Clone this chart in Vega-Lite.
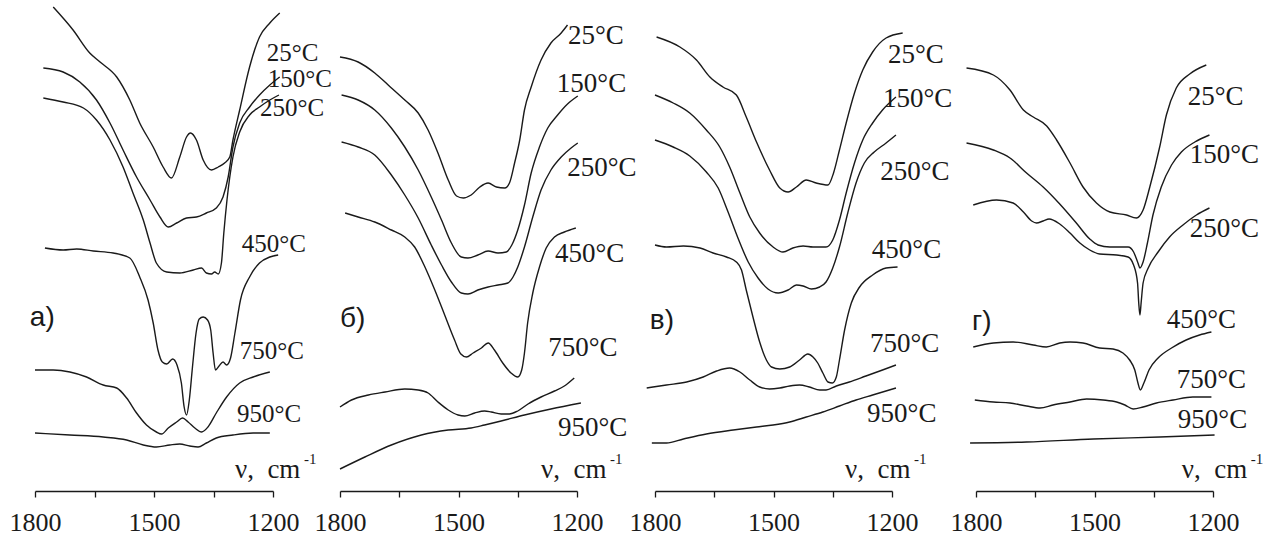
{
  "$schema": "https://vega.github.io/schema/vega-lite/v6.json",
  "padding": {"left": 9, "top": 0, "right": 0, "bottom": 0},
  "background": "white",
  "config": {
    "view": {"stroke": null},
    "axis": {"grid": false, "domainColor": "#1a1a1a", "domainWidth": 1.3, "tickColor": "#1a1a1a", "tickWidth": 1.3, "tickSize": 6, "labelFont": "Liberation Serif, Times New Roman, serif", "labelFontSize": 26, "labelColor": "#1a1a1a", "labelPadding": 12, "labelFlush": false, "labelOverlap": false},
    "text": {"font": "Liberation Serif, Times New Roman, serif", "color": "#1a1a1a", "align": "left", "baseline": "alphabetic"}
  },
  "datasets": {
    "a": [
      {"T":"25","nu":1754,"tr":484},{"T":"25","nu":1704,"tr":461},{"T":"25","nu":1662,"tr":438},{"T":"25","nu":1636,"tr":429},{"T":"25","nu":1594,"tr":414},{"T":"25","nu":1561,"tr":391},{"T":"25","nu":1536,"tr":368},{"T":"25","nu":1502,"tr":344},{"T":"25","nu":1477,"tr":324},{"T":"25","nu":1456,"tr":313},{"T":"25","nu":1435,"tr":334},{"T":"25","nu":1418,"tr":354},{"T":"25","nu":1408,"tr":358},{"T":"25","nu":1393,"tr":351},{"T":"25","nu":1376,"tr":331},{"T":"25","nu":1355,"tr":321},{"T":"25","nu":1338,"tr":324},{"T":"25","nu":1322,"tr":328},{"T":"25","nu":1309,"tr":334},{"T":"25","nu":1301,"tr":351},{"T":"25","nu":1284,"tr":381},{"T":"25","nu":1259,"tr":424},{"T":"25","nu":1234,"tr":454},{"T":"25","nu":1208,"tr":468},{"T":"25","nu":1183,"tr":478},
      {"T":"150","nu":1779,"tr":423},{"T":"150","nu":1729,"tr":419},{"T":"150","nu":1687,"tr":409},{"T":"150","nu":1645,"tr":391},{"T":"150","nu":1611,"tr":368},{"T":"150","nu":1578,"tr":341},{"T":"150","nu":1544,"tr":314},{"T":"150","nu":1510,"tr":291},{"T":"150","nu":1485,"tr":274},{"T":"150","nu":1464,"tr":264},{"T":"150","nu":1443,"tr":268},{"T":"150","nu":1418,"tr":273},{"T":"150","nu":1393,"tr":274},{"T":"150","nu":1368,"tr":278},{"T":"150","nu":1343,"tr":283},{"T":"150","nu":1326,"tr":294},{"T":"150","nu":1313,"tr":314},{"T":"150","nu":1301,"tr":344},{"T":"150","nu":1284,"tr":368},{"T":"150","nu":1259,"tr":384},{"T":"150","nu":1234,"tr":396},{"T":"150","nu":1208,"tr":406},{"T":"150","nu":1183,"tr":414},
      {"T":"250","nu":1779,"tr":393},{"T":"250","nu":1729,"tr":389},{"T":"250","nu":1678,"tr":383},{"T":"250","nu":1645,"tr":371},{"T":"250","nu":1611,"tr":351},{"T":"250","nu":1578,"tr":324},{"T":"250","nu":1553,"tr":298},{"T":"250","nu":1527,"tr":271},{"T":"250","nu":1510,"tr":248},{"T":"250","nu":1494,"tr":228},{"T":"250","nu":1468,"tr":219},{"T":"250","nu":1435,"tr":218},{"T":"250","nu":1401,"tr":221},{"T":"250","nu":1380,"tr":223},{"T":"250","nu":1368,"tr":218},{"T":"250","nu":1355,"tr":217},{"T":"250","nu":1347,"tr":219},{"T":"250","nu":1338,"tr":217},{"T":"250","nu":1330,"tr":228},{"T":"250","nu":1324,"tr":258},{"T":"250","nu":1316,"tr":291},{"T":"250","nu":1301,"tr":334},{"T":"250","nu":1284,"tr":359},{"T":"250","nu":1259,"tr":376},{"T":"250","nu":1234,"tr":384},{"T":"250","nu":1208,"tr":391},{"T":"250","nu":1185,"tr":396},
      {"T":"450","nu":1775,"tr":243},{"T":"450","nu":1729,"tr":241},{"T":"450","nu":1695,"tr":242},{"T":"450","nu":1653,"tr":240},{"T":"450","nu":1603,"tr":238},{"T":"450","nu":1561,"tr":233},{"T":"450","nu":1536,"tr":214},{"T":"450","nu":1515,"tr":191},{"T":"450","nu":1502,"tr":168},{"T":"450","nu":1490,"tr":141},{"T":"450","nu":1479,"tr":129},{"T":"450","nu":1468,"tr":127},{"T":"450","nu":1453,"tr":132},{"T":"450","nu":1442,"tr":126},{"T":"450","nu":1431,"tr":108},{"T":"450","nu":1424,"tr":84},{"T":"450","nu":1418,"tr":76},{"T":"450","nu":1411,"tr":91},{"T":"450","nu":1403,"tr":124},{"T":"450","nu":1394,"tr":158},{"T":"450","nu":1386,"tr":172},{"T":"450","nu":1376,"tr":174},{"T":"450","nu":1365,"tr":171},{"T":"450","nu":1357,"tr":161},{"T":"450","nu":1351,"tr":138},{"T":"450","nu":1345,"tr":121},{"T":"450","nu":1336,"tr":125},{"T":"450","nu":1326,"tr":129},{"T":"450","nu":1317,"tr":126},{"T":"450","nu":1307,"tr":133},{"T":"450","nu":1296,"tr":158},{"T":"450","nu":1282,"tr":191},{"T":"450","nu":1259,"tr":214},{"T":"450","nu":1234,"tr":228},{"T":"450","nu":1208,"tr":234},{"T":"450","nu":1187,"tr":236},
      {"T":"750","nu":1800,"tr":121},{"T":"750","nu":1754,"tr":121},{"T":"750","nu":1712,"tr":119},{"T":"750","nu":1670,"tr":114},{"T":"750","nu":1628,"tr":106},{"T":"750","nu":1594,"tr":103},{"T":"750","nu":1569,"tr":93},{"T":"750","nu":1544,"tr":78},{"T":"750","nu":1519,"tr":66},{"T":"750","nu":1494,"tr":59},{"T":"750","nu":1481,"tr":57},{"T":"750","nu":1464,"tr":63},{"T":"750","nu":1443,"tr":69},{"T":"750","nu":1428,"tr":73},{"T":"750","nu":1414,"tr":69},{"T":"750","nu":1397,"tr":63},{"T":"750","nu":1380,"tr":59},{"T":"750","nu":1364,"tr":64},{"T":"750","nu":1343,"tr":78},{"T":"750","nu":1317,"tr":94},{"T":"750","nu":1284,"tr":108},{"T":"750","nu":1250,"tr":114},{"T":"750","nu":1208,"tr":119},
      {"T":"950","nu":1800,"tr":58},{"T":"950","nu":1712,"tr":56},{"T":"950","nu":1628,"tr":54},{"T":"950","nu":1569,"tr":51},{"T":"950","nu":1527,"tr":46},{"T":"950","nu":1494,"tr":44},{"T":"950","nu":1460,"tr":46},{"T":"950","nu":1435,"tr":47},{"T":"950","nu":1410,"tr":45},{"T":"950","nu":1389,"tr":44},{"T":"950","nu":1368,"tr":48},{"T":"950","nu":1343,"tr":53},{"T":"950","nu":1301,"tr":56},{"T":"950","nu":1250,"tr":58},{"T":"950","nu":1208,"tr":58}
    ],
    "b": [
      {"T":"25","nu":1800,"tr":434},{"T":"25","nu":1754,"tr":429},{"T":"25","nu":1712,"tr":418},{"T":"25","nu":1678,"tr":406},{"T":"25","nu":1636,"tr":391},{"T":"25","nu":1602,"tr":378},{"T":"25","nu":1577,"tr":361},{"T":"25","nu":1552,"tr":338},{"T":"25","nu":1526,"tr":311},{"T":"25","nu":1505,"tr":295},{"T":"25","nu":1488,"tr":293},{"T":"25","nu":1468,"tr":296},{"T":"25","nu":1446,"tr":304},{"T":"25","nu":1425,"tr":308},{"T":"25","nu":1404,"tr":304},{"T":"25","nu":1383,"tr":303},{"T":"25","nu":1371,"tr":308},{"T":"25","nu":1358,"tr":328},{"T":"25","nu":1345,"tr":351},{"T":"25","nu":1333,"tr":381},{"T":"25","nu":1316,"tr":404},{"T":"25","nu":1291,"tr":431},{"T":"25","nu":1266,"tr":448},{"T":"25","nu":1240,"tr":458},{"T":"25","nu":1224,"tr":466},
      {"T":"150","nu":1796,"tr":396},{"T":"150","nu":1754,"tr":391},{"T":"150","nu":1712,"tr":381},{"T":"150","nu":1670,"tr":363},{"T":"150","nu":1636,"tr":344},{"T":"150","nu":1602,"tr":321},{"T":"150","nu":1569,"tr":294},{"T":"150","nu":1543,"tr":271},{"T":"150","nu":1518,"tr":248},{"T":"150","nu":1493,"tr":234},{"T":"150","nu":1476,"tr":233},{"T":"150","nu":1451,"tr":236},{"T":"150","nu":1425,"tr":240},{"T":"150","nu":1400,"tr":238},{"T":"150","nu":1379,"tr":239},{"T":"150","nu":1365,"tr":246},{"T":"150","nu":1350,"tr":261},{"T":"150","nu":1333,"tr":286},{"T":"150","nu":1316,"tr":318},{"T":"150","nu":1295,"tr":344},{"T":"150","nu":1274,"tr":363},{"T":"150","nu":1249,"tr":376},{"T":"150","nu":1224,"tr":387},{"T":"150","nu":1198,"tr":395},
      {"T":"250","nu":1796,"tr":349},{"T":"250","nu":1754,"tr":344},{"T":"250","nu":1712,"tr":336},{"T":"250","nu":1670,"tr":316},{"T":"250","nu":1636,"tr":296},{"T":"250","nu":1602,"tr":273},{"T":"250","nu":1569,"tr":246},{"T":"250","nu":1543,"tr":226},{"T":"250","nu":1518,"tr":209},{"T":"250","nu":1493,"tr":198},{"T":"250","nu":1476,"tr":197},{"T":"250","nu":1451,"tr":201},{"T":"250","nu":1425,"tr":204},{"T":"250","nu":1400,"tr":206},{"T":"250","nu":1375,"tr":208},{"T":"250","nu":1362,"tr":214},{"T":"250","nu":1350,"tr":224},{"T":"250","nu":1333,"tr":244},{"T":"250","nu":1312,"tr":274},{"T":"250","nu":1291,"tr":301},{"T":"250","nu":1266,"tr":321},{"T":"250","nu":1240,"tr":334},{"T":"250","nu":1215,"tr":343},{"T":"250","nu":1198,"tr":348},
      {"T":"450","nu":1787,"tr":278},{"T":"450","nu":1754,"tr":274},{"T":"450","nu":1712,"tr":269},{"T":"450","nu":1670,"tr":261},{"T":"450","nu":1636,"tr":254},{"T":"450","nu":1611,"tr":244},{"T":"450","nu":1585,"tr":224},{"T":"450","nu":1560,"tr":201},{"T":"450","nu":1535,"tr":176},{"T":"450","nu":1510,"tr":151},{"T":"450","nu":1494,"tr":137},{"T":"450","nu":1480,"tr":134},{"T":"450","nu":1463,"tr":138},{"T":"450","nu":1442,"tr":143},{"T":"450","nu":1425,"tr":148},{"T":"450","nu":1409,"tr":141},{"T":"450","nu":1388,"tr":128},{"T":"450","nu":1367,"tr":118},{"T":"450","nu":1350,"tr":114},{"T":"450","nu":1340,"tr":121},{"T":"450","nu":1333,"tr":138},{"T":"450","nu":1325,"tr":168},{"T":"450","nu":1312,"tr":198},{"T":"450","nu":1295,"tr":224},{"T":"450","nu":1278,"tr":243},{"T":"450","nu":1257,"tr":254},{"T":"450","nu":1232,"tr":259},{"T":"450","nu":1203,"tr":263},
      {"T":"750","nu":1800,"tr":84},{"T":"750","nu":1771,"tr":91},{"T":"750","nu":1728,"tr":96},{"T":"750","nu":1686,"tr":99},{"T":"750","nu":1636,"tr":102},{"T":"750","nu":1602,"tr":101},{"T":"750","nu":1577,"tr":98},{"T":"750","nu":1552,"tr":89},{"T":"750","nu":1526,"tr":81},{"T":"750","nu":1501,"tr":76},{"T":"750","nu":1484,"tr":75},{"T":"750","nu":1459,"tr":78},{"T":"750","nu":1434,"tr":80},{"T":"750","nu":1417,"tr":79},{"T":"750","nu":1392,"tr":77},{"T":"750","nu":1371,"tr":77},{"T":"750","nu":1350,"tr":80},{"T":"750","nu":1324,"tr":87},{"T":"750","nu":1291,"tr":94},{"T":"750","nu":1257,"tr":100},{"T":"750","nu":1232,"tr":105},{"T":"750","nu":1207,"tr":113},
      {"T":"950","nu":1800,"tr":22},{"T":"950","nu":1737,"tr":34},{"T":"950","nu":1670,"tr":46},{"T":"950","nu":1594,"tr":56},{"T":"950","nu":1526,"tr":61},{"T":"950","nu":1468,"tr":63},{"T":"950","nu":1434,"tr":66},{"T":"950","nu":1392,"tr":70},{"T":"950","nu":1333,"tr":76},{"T":"950","nu":1266,"tr":82},{"T":"950","nu":1190,"tr":88}
    ],
    "v": [
      {"T":"25","nu":1796,"tr":454},{"T":"25","nu":1737,"tr":444},{"T":"25","nu":1695,"tr":431},{"T":"25","nu":1661,"tr":414},{"T":"25","nu":1628,"tr":404},{"T":"25","nu":1594,"tr":396},{"T":"25","nu":1569,"tr":374},{"T":"25","nu":1543,"tr":349},{"T":"25","nu":1510,"tr":321},{"T":"25","nu":1484,"tr":303},{"T":"25","nu":1463,"tr":299},{"T":"25","nu":1442,"tr":304},{"T":"25","nu":1417,"tr":311},{"T":"25","nu":1392,"tr":308},{"T":"25","nu":1362,"tr":306},{"T":"25","nu":1348,"tr":318},{"T":"25","nu":1333,"tr":341},{"T":"25","nu":1316,"tr":368},{"T":"25","nu":1295,"tr":398},{"T":"25","nu":1274,"tr":421},{"T":"25","nu":1249,"tr":439},{"T":"25","nu":1215,"tr":453},{"T":"25","nu":1173,"tr":458},
      {"T":"150","nu":1800,"tr":396},{"T":"150","nu":1754,"tr":388},{"T":"150","nu":1712,"tr":378},{"T":"150","nu":1670,"tr":361},{"T":"150","nu":1636,"tr":344},{"T":"150","nu":1611,"tr":324},{"T":"150","nu":1585,"tr":298},{"T":"150","nu":1560,"tr":274},{"T":"150","nu":1535,"tr":258},{"T":"150","nu":1501,"tr":244},{"T":"150","nu":1476,"tr":239},{"T":"150","nu":1451,"tr":243},{"T":"150","nu":1425,"tr":245},{"T":"150","nu":1400,"tr":244},{"T":"150","nu":1367,"tr":244},{"T":"150","nu":1350,"tr":251},{"T":"150","nu":1333,"tr":271},{"T":"150","nu":1316,"tr":298},{"T":"150","nu":1295,"tr":328},{"T":"150","nu":1274,"tr":351},{"T":"150","nu":1249,"tr":368},{"T":"150","nu":1224,"tr":381},{"T":"150","nu":1190,"tr":394},
      {"T":"250","nu":1800,"tr":351},{"T":"250","nu":1754,"tr":344},{"T":"250","nu":1712,"tr":335},{"T":"250","nu":1670,"tr":319},{"T":"250","nu":1640,"tr":303},{"T":"250","nu":1615,"tr":279},{"T":"250","nu":1590,"tr":253},{"T":"250","nu":1564,"tr":229},{"T":"250","nu":1539,"tr":213},{"T":"250","nu":1514,"tr":202},{"T":"250","nu":1488,"tr":198},{"T":"250","nu":1463,"tr":201},{"T":"250","nu":1442,"tr":206},{"T":"250","nu":1425,"tr":205},{"T":"250","nu":1404,"tr":202},{"T":"250","nu":1383,"tr":204},{"T":"250","nu":1367,"tr":209},{"T":"250","nu":1350,"tr":223},{"T":"250","nu":1333,"tr":244},{"T":"250","nu":1312,"tr":278},{"T":"250","nu":1291,"tr":308},{"T":"250","nu":1270,"tr":328},{"T":"250","nu":1245,"tr":339},{"T":"250","nu":1215,"tr":348},{"T":"250","nu":1190,"tr":356},
      {"T":"450","nu":1800,"tr":246},{"T":"450","nu":1771,"tr":244},{"T":"450","nu":1728,"tr":245},{"T":"450","nu":1686,"tr":243},{"T":"450","nu":1653,"tr":238},{"T":"450","nu":1619,"tr":234},{"T":"450","nu":1594,"tr":229},{"T":"450","nu":1581,"tr":221},{"T":"450","nu":1569,"tr":201},{"T":"450","nu":1552,"tr":174},{"T":"450","nu":1535,"tr":149},{"T":"450","nu":1518,"tr":131},{"T":"450","nu":1505,"tr":124},{"T":"450","nu":1484,"tr":122},{"T":"450","nu":1459,"tr":124},{"T":"450","nu":1434,"tr":131},{"T":"450","nu":1413,"tr":137},{"T":"450","nu":1400,"tr":134},{"T":"450","nu":1388,"tr":128},{"T":"450","nu":1375,"tr":118},{"T":"450","nu":1362,"tr":109},{"T":"450","nu":1351,"tr":108},{"T":"450","nu":1341,"tr":114},{"T":"450","nu":1333,"tr":131},{"T":"450","nu":1320,"tr":161},{"T":"450","nu":1303,"tr":188},{"T":"450","nu":1282,"tr":204},{"T":"450","nu":1249,"tr":216},{"T":"450","nu":1215,"tr":223},{"T":"450","nu":1186,"tr":224},
      {"T":"750","nu":1821,"tr":103},{"T":"750","nu":1771,"tr":106},{"T":"750","nu":1720,"tr":109},{"T":"750","nu":1678,"tr":114},{"T":"750","nu":1644,"tr":120},{"T":"750","nu":1611,"tr":123},{"T":"750","nu":1585,"tr":119},{"T":"750","nu":1560,"tr":111},{"T":"750","nu":1535,"tr":104},{"T":"750","nu":1510,"tr":102},{"T":"750","nu":1484,"tr":103},{"T":"750","nu":1459,"tr":105},{"T":"750","nu":1434,"tr":106},{"T":"750","nu":1409,"tr":104},{"T":"750","nu":1383,"tr":101},{"T":"750","nu":1367,"tr":101},{"T":"750","nu":1341,"tr":105},{"T":"750","nu":1308,"tr":109},{"T":"750","nu":1266,"tr":115},{"T":"750","nu":1224,"tr":121},{"T":"750","nu":1190,"tr":126},
      {"T":"950","nu":1808,"tr":48},{"T":"950","nu":1771,"tr":48},{"T":"950","nu":1728,"tr":52},{"T":"950","nu":1670,"tr":57},{"T":"950","nu":1602,"tr":61},{"T":"950","nu":1543,"tr":64},{"T":"950","nu":1501,"tr":66},{"T":"950","nu":1459,"tr":69},{"T":"950","nu":1417,"tr":74},{"T":"950","nu":1375,"tr":79},{"T":"950","nu":1333,"tr":85},{"T":"950","nu":1291,"tr":91},{"T":"950","nu":1249,"tr":96},{"T":"950","nu":1190,"tr":103}
    ],
    "g": [
      {"T":"25","nu":1824,"tr":423},{"T":"25","nu":1756,"tr":416},{"T":"25","nu":1714,"tr":401},{"T":"25","nu":1680,"tr":381},{"T":"25","nu":1655,"tr":374},{"T":"25","nu":1621,"tr":365},{"T":"25","nu":1596,"tr":351},{"T":"25","nu":1562,"tr":328},{"T":"25","nu":1529,"tr":304},{"T":"25","nu":1495,"tr":288},{"T":"25","nu":1461,"tr":279},{"T":"25","nu":1419,"tr":276},{"T":"25","nu":1394,"tr":273},{"T":"25","nu":1377,"tr":281},{"T":"25","nu":1360,"tr":304},{"T":"25","nu":1335,"tr":344},{"T":"25","nu":1318,"tr":376},{"T":"25","nu":1293,"tr":403},{"T":"25","nu":1259,"tr":417},{"T":"25","nu":1217,"tr":426},
      {"T":"150","nu":1824,"tr":348},{"T":"150","nu":1756,"tr":341},{"T":"150","nu":1714,"tr":333},{"T":"150","nu":1672,"tr":318},{"T":"150","nu":1630,"tr":304},{"T":"150","nu":1588,"tr":287},{"T":"150","nu":1546,"tr":268},{"T":"150","nu":1512,"tr":252},{"T":"150","nu":1491,"tr":246},{"T":"150","nu":1461,"tr":244},{"T":"150","nu":1415,"tr":244},{"T":"150","nu":1401,"tr":239},{"T":"150","nu":1390,"tr":228},{"T":"150","nu":1385,"tr":223},{"T":"150","nu":1377,"tr":229},{"T":"150","nu":1366,"tr":248},{"T":"150","nu":1352,"tr":276},{"T":"150","nu":1331,"tr":304},{"T":"150","nu":1305,"tr":326},{"T":"150","nu":1280,"tr":339},{"T":"150","nu":1246,"tr":349},{"T":"150","nu":1209,"tr":356},
      {"T":"250","nu":1807,"tr":286},{"T":"250","nu":1748,"tr":291},{"T":"250","nu":1706,"tr":288},{"T":"250","nu":1680,"tr":279},{"T":"250","nu":1659,"tr":270},{"T":"250","nu":1647,"tr":268},{"T":"250","nu":1630,"tr":270},{"T":"250","nu":1615,"tr":272},{"T":"250","nu":1588,"tr":267},{"T":"250","nu":1562,"tr":258},{"T":"250","nu":1537,"tr":248},{"T":"250","nu":1512,"tr":241},{"T":"250","nu":1487,"tr":237},{"T":"250","nu":1444,"tr":236},{"T":"250","nu":1415,"tr":234},{"T":"250","nu":1401,"tr":226},{"T":"250","nu":1391,"tr":208},{"T":"250","nu":1388,"tr":188},{"T":"250","nu":1385,"tr":176},{"T":"250","nu":1382,"tr":188},{"T":"250","nu":1377,"tr":208},{"T":"250","nu":1364,"tr":223},{"T":"250","nu":1339,"tr":239},{"T":"250","nu":1310,"tr":254},{"T":"250","nu":1276,"tr":266},{"T":"250","nu":1242,"tr":276},{"T":"250","nu":1209,"tr":283},
      {"T":"450","nu":1807,"tr":144},{"T":"450","nu":1756,"tr":148},{"T":"450","nu":1706,"tr":149},{"T":"450","nu":1655,"tr":146},{"T":"450","nu":1622,"tr":144},{"T":"450","nu":1588,"tr":148},{"T":"450","nu":1562,"tr":149},{"T":"450","nu":1529,"tr":148},{"T":"450","nu":1487,"tr":143},{"T":"450","nu":1453,"tr":142},{"T":"450","nu":1428,"tr":138},{"T":"450","nu":1411,"tr":131},{"T":"450","nu":1398,"tr":121},{"T":"450","nu":1390,"tr":108},{"T":"450","nu":1384,"tr":101},{"T":"450","nu":1375,"tr":108},{"T":"450","nu":1362,"tr":121},{"T":"450","nu":1339,"tr":133},{"T":"450","nu":1305,"tr":143},{"T":"450","nu":1268,"tr":151},{"T":"450","nu":1234,"tr":156},{"T":"450","nu":1204,"tr":159},
      {"T":"750","nu":1803,"tr":91},{"T":"750","nu":1756,"tr":89},{"T":"750","nu":1714,"tr":88},{"T":"750","nu":1672,"tr":85},{"T":"750","nu":1638,"tr":83},{"T":"750","nu":1605,"tr":86},{"T":"750","nu":1562,"tr":89},{"T":"750","nu":1520,"tr":92},{"T":"750","nu":1478,"tr":91},{"T":"750","nu":1444,"tr":89},{"T":"750","nu":1423,"tr":86},{"T":"750","nu":1402,"tr":82},{"T":"750","nu":1377,"tr":84},{"T":"750","nu":1343,"tr":88},{"T":"750","nu":1301,"tr":91},{"T":"750","nu":1251,"tr":94},{"T":"750","nu":1204,"tr":94},
      {"T":"950","nu":1815,"tr":48},{"T":"950","nu":1672,"tr":49},{"T":"950","nu":1503,"tr":52},{"T":"950","nu":1335,"tr":54},{"T":"950","nu":1196,"tr":56}
    ]
  },
  "hconcat": [
    {
      "width": 238, "height": 491,
      "encoding": {
        "x": {"field": "nu", "type": "quantitative", "scale": {"domain": [1800, 1200], "nice": false, "zero": false}, "axis": {"values": [1800, 1650, 1500, 1350, 1200], "format": "d", "labelExpr": "datum.value % 300 === 0 ? datum.label : ''", "title": null}},
        "y": {"field": "tr", "type": "quantitative", "scale": {"domain": [0, 491], "nice": false, "zero": false}, "axis": null}
      },
      "layer": [
        {"data": {"name": "a"}, "mark": {"type": "line", "interpolate": "monotone", "stroke": "#1a1a1a", "strokeWidth": 1.4}, "encoding": {"detail": {"field": "T"}, "order": {"field": "nu", "sort": "descending"}}},
        {"data": {"values": [{"nu":1216,"tr":430,"s":"25°C"},{"nu":1213,"tr":404,"s":"150°C"},{"nu":1233,"tr":375,"s":"250°C"},{"nu":1279,"tr":239,"s":"450°C"},{"nu":1284,"tr":132,"s":"750°C"},{"nu":1291,"tr":69,"s":"950°C"}]}, "mark": {"type": "text", "fontSize": 25}, "encoding": {"text": {"field": "s"}}},
        {"data": {"values": [{"nu":1813,"tr":165,"s":"а)"}]}, "mark": {"type": "text", "font": "Liberation Sans, Arial, sans-serif", "fontSize": 28}, "encoding": {"text": {"field": "s"}}},
        {"data": {"values": [{"nu":1296,"tr":13,"s":"ν,\u00a0\u00a0cm","sup":"-1"}]}, "mark": {"type": "text", "fontSize": 27}, "encoding": {"text": {"field": "s"}}},
        {"data": {"values": [{"nu":1296,"tr":13,"s":"ν,\u00a0\u00a0cm","sup":"-1"}]}, "mark": {"type": "text", "fontSize": 15, "dx": 69, "dy": -14}, "encoding": {"text": {"field": "sup"}}}
      ]
    },
    {"width": 67, "height": 491, "data": {"values": [{}]}, "mark": {"type": "point", "opacity": 0}, "encoding": {}},
    {
      "width": 237, "height": 491,
      "encoding": {
        "x": {"field": "nu", "type": "quantitative", "scale": {"domain": [1800, 1200], "nice": false, "zero": false}, "axis": {"values": [1800, 1650, 1500, 1350, 1200], "format": "d", "labelExpr": "datum.value % 300 === 0 ? datum.label : ''", "title": null}},
        "y": {"field": "tr", "type": "quantitative", "scale": {"domain": [0, 491], "nice": false, "zero": false}, "axis": null}
      },
      "layer": [
        {"data": {"name": "b"}, "mark": {"type": "line", "interpolate": "monotone", "stroke": "#1a1a1a", "strokeWidth": 1.4}, "encoding": {"detail": {"field": "T"}, "order": {"field": "nu", "sort": "descending"}}},
        {"data": {"values": [{"nu":1223,"tr":447,"s":"25°C"},{"nu":1251,"tr":399,"s":"150°C"},{"nu":1225,"tr":315,"s":"250°C"},{"nu":1256,"tr":229,"s":"450°C"},{"nu":1273,"tr":135,"s":"750°C"},{"nu":1248,"tr":55,"s":"950°C"}]}, "mark": {"type": "text", "fontSize": 27}, "encoding": {"text": {"field": "s"}}},
        {"data": {"values": [{"nu":1800,"tr":164,"s":"б)"}]}, "mark": {"type": "text", "font": "Liberation Sans, Arial, sans-serif", "fontSize": 28}, "encoding": {"text": {"field": "s"}}},
        {"data": {"values": [{"nu":1291,"tr":13,"s":"ν,\u00a0\u00a0cm","sup":"-1"}]}, "mark": {"type": "text", "fontSize": 27}, "encoding": {"text": {"field": "s"}}},
        {"data": {"values": [{"nu":1291,"tr":13,"s":"ν,\u00a0\u00a0cm","sup":"-1"}]}, "mark": {"type": "text", "fontSize": 15, "dx": 69, "dy": -14}, "encoding": {"text": {"field": "sup"}}}
      ]
    },
    {"width": 78, "height": 491, "data": {"values": [{}]}, "mark": {"type": "point", "opacity": 0}, "encoding": {}},
    {
      "width": 237, "height": 491,
      "encoding": {
        "x": {"field": "nu", "type": "quantitative", "scale": {"domain": [1800, 1200], "nice": false, "zero": false}, "axis": {"values": [1800, 1650, 1500, 1350, 1200], "format": "d", "labelExpr": "datum.value % 300 === 0 ? datum.label : ''", "title": null}},
        "y": {"field": "tr", "type": "quantitative", "scale": {"domain": [0, 491], "nice": false, "zero": false}, "axis": null}
      },
      "layer": [
        {"data": {"name": "v"}, "mark": {"type": "line", "interpolate": "monotone", "stroke": "#1a1a1a", "strokeWidth": 1.4}, "encoding": {"detail": {"field": "T"}, "order": {"field": "nu", "sort": "descending"}}},
        {"data": {"values": [{"nu":1210,"tr":428,"s":"25°C"},{"nu":1223,"tr":384,"s":"150°C"},{"nu":1230,"tr":311,"s":"250°C"},{"nu":1251,"tr":233,"s":"450°C"},{"nu":1256,"tr":139,"s":"750°C"},{"nu":1263,"tr":69,"s":"950°C"}]}, "mark": {"type": "text", "fontSize": 27}, "encoding": {"text": {"field": "s"}}},
        {"data": {"values": [{"nu":1813,"tr":162,"s":"в)"}]}, "mark": {"type": "text", "font": "Liberation Sans, Arial, sans-serif", "fontSize": 28}, "encoding": {"text": {"field": "s"}}},
        {"data": {"values": [{"nu":1319,"tr":13,"s":"ν,\u00a0\u00a0cm","sup":"-1"}]}, "mark": {"type": "text", "fontSize": 27}, "encoding": {"text": {"field": "s"}}},
        {"data": {"values": [{"nu":1319,"tr":13,"s":"ν,\u00a0\u00a0cm","sup":"-1"}]}, "mark": {"type": "text", "fontSize": 15, "dx": 69, "dy": -14}, "encoding": {"text": {"field": "sup"}}}
      ]
    },
    {"width": 84, "height": 491, "data": {"values": [{}]}, "mark": {"type": "point", "opacity": 0}, "encoding": {}},
    {
      "width": 237, "height": 491,
      "encoding": {
        "x": {"field": "nu", "type": "quantitative", "scale": {"domain": [1800, 1200], "nice": false, "zero": false}, "axis": {"values": [1800, 1650, 1500, 1350, 1200], "format": "d", "labelExpr": "datum.value % 300 === 0 ? datum.label : ''", "title": null}},
        "y": {"field": "tr", "type": "quantitative", "scale": {"domain": [0, 491], "nice": false, "zero": false}, "axis": null}
      },
      "layer": [
        {"data": {"name": "g"}, "mark": {"type": "line", "interpolate": "monotone", "stroke": "#1a1a1a", "strokeWidth": 1.4}, "encoding": {"detail": {"field": "T"}, "order": {"field": "nu", "sort": "descending"}}},
        {"data": {"values": [{"nu":1264,"tr":386,"s":"25°C"},{"nu":1259,"tr":328,"s":"150°C"},{"nu":1259,"tr":254,"s":"250°C"},{"nu":1317,"tr":163,"s":"450°C"},{"nu":1292,"tr":103,"s":"750°C"},{"nu":1289,"tr":63,"s":"950°C"}]}, "mark": {"type": "text", "fontSize": 27}, "encoding": {"text": {"field": "s"}}},
        {"data": {"values": [{"nu":1810,"tr":161,"s":"г)"}]}, "mark": {"type": "text", "font": "Liberation Sans, Arial, sans-serif", "fontSize": 28}, "encoding": {"text": {"field": "s"}}},
        {"data": {"values": [{"nu":1279,"tr":13,"s":"ν,\u00a0\u00a0cm","sup":"-1"}]}, "mark": {"type": "text", "fontSize": 27}, "encoding": {"text": {"field": "s"}}},
        {"data": {"values": [{"nu":1279,"tr":13,"s":"ν,\u00a0\u00a0cm","sup":"-1"}]}, "mark": {"type": "text", "fontSize": 15, "dx": 69, "dy": -14}, "encoding": {"text": {"field": "sup"}}}
      ]
    }
  ],
  "spacing": 0,
  "bounds": "flush"
}
